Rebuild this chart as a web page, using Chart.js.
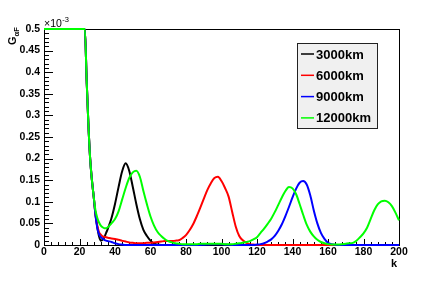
<!DOCTYPE html>
<html>
<head>
<meta charset="utf-8">
<script src="https://cdn.jsdelivr.net/npm/chart.js@4"></script>
<style>
html, body { margin: 0; padding: 0; background: #fff; }
#wrap { width: 443px; height: 285px; }
</style>
</head>
<body>
<div id="wrap"><canvas id="chart"></canvas></div>
<script>
// k values (same sampling for all four curves), G in units of 1e-3
const kValues = [0, 10, 20, 22, 23,
    24, 25, 26, 27, 28, 29, 30, 31, 32, 33, 34, 35, 36,
    38,
    40, 42, 44, 46, 48, 50, 52, 54, 56, 58,
    60, 62, 64, 66, 68, 70, 72, 74, 76, 78,
    80, 82, 84, 86, 88, 90, 92, 94, 96, 98,
    100, 102, 104, 106, 108, 110, 112, 114, 116, 118,
    120, 122, 124, 126, 128, 130, 132, 134, 136, 138,
    140, 142, 144, 146, 148, 150, 152, 154, 156, 158,
    160, 162, 164, 166, 168, 170, 172, 174, 176, 178,
    180, 182, 184, 186, 188, 190, 192, 194, 196, 198,
    200];

const g3000 = [0.5, 0.5, 0.5, 0.5, 0.5,
    0.385, 0.28, 0.2, 0.15, 0.112, 0.07, 0.042, 0.02, 0.01, 0.012, 0.018, 0.028, 0.038,
    0.062,
    0.095, 0.134, 0.17, 0.189, 0.172, 0.135, 0.095, 0.06, 0.035, 0.021,
    0.01, 0.003, 0.001, 0, 0, 0, 0, 0, 0, 0,
    0, 0, 0, 0, 0, 0, 0, 0, 0, 0,
    0, 0, 0, 0, 0, 0, 0, 0, 0, 0,
    0, 0, 0, 0, 0, 0, 0, 0, 0, 0,
    0, 0, 0, 0, 0, 0, 0, 0, 0, 0,
    0, 0, 0, 0, 0, 0, 0, 0, 0, 0,
    0, 0, 0, 0, 0, 0, 0, 0, 0, 0,
    0];

const g6000 = [0.5, 0.5, 0.5, 0.5, 0.5,
    0.385, 0.28, 0.2, 0.15, 0.112, 0.072, 0.045, 0.03, 0.024, 0.02, 0.019, 0.018, 0.017,
    0.015,
    0.014, 0.012, 0.01, 0.008, 0.006, 0.005, 0.004, 0.004, 0.004, 0.005,
    0.005, 0.006, 0.007, 0.008, 0.009, 0.009, 0.009, 0.01, 0.011, 0.016,
    0.023, 0.034, 0.048, 0.066, 0.086, 0.107, 0.127, 0.143, 0.155, 0.158,
    0.148, 0.132, 0.112, 0.077, 0.043, 0.021, 0.011, 0.005, 0.002, 0.001,
    0, 0, 0, 0, 0, 0, 0, 0, 0, 0,
    0, 0, 0, 0, 0, 0, 0, 0, 0, 0,
    0, 0, 0, 0, 0, 0, 0, 0, 0, 0,
    0, 0, 0, 0, 0, 0, 0, 0, 0, 0,
    0];

const g9000 = [0.5, 0.5, 0.5, 0.5, 0.5,
    0.385, 0.28, 0.2, 0.15, 0.112, 0.07, 0.04, 0.025, 0.018, 0.015, 0.012, 0.01, 0.009,
    0.007,
    0.004, 0.002, 0.001, 0, 0, 0, 0, 0, 0, 0,
    0, 0, 0, 0, 0, 0, 0, 0, 0, 0,
    0, 0, 0, 0, 0, 0.0005, 0.001, 0.0015, 0.002, 0.002,
    0.0015, 0.001, 0.0005, 0, 0, 0, 0, 0, 0, 0,
    0.001, 0.002, 0.004, 0.008, 0.013, 0.021, 0.033, 0.048, 0.067, 0.088,
    0.11, 0.13, 0.144, 0.148, 0.14, 0.115, 0.08, 0.05, 0.028, 0.014,
    0.005, 0.002, 0.0005, 0, 0, 0, 0, 0, 0, 0,
    0, 0, 0, 0, 0, 0, 0, 0, 0, 0,
    0];

const g12000 = [0.5, 0.5, 0.5, 0.5, 0.5,
    0.385, 0.28, 0.2, 0.15, 0.112, 0.08, 0.063, 0.052, 0.045, 0.041, 0.039, 0.039, 0.041,
    0.05,
    0.06, 0.078, 0.105, 0.132, 0.155, 0.168, 0.172, 0.158, 0.125, 0.094,
    0.066, 0.045, 0.03, 0.021, 0.014, 0.009, 0.006, 0.004, 0.003, 0.002,
    0.002, 0.002, 0.002, 0.002, 0.003, 0.003, 0.003, 0.003, 0.003, 0.003,
    0.003, 0.002, 0.002, 0.002, 0.003, 0.004, 0.005, 0.007, 0.009, 0.013,
    0.018, 0.028, 0.038, 0.049, 0.061, 0.076, 0.093, 0.11, 0.125, 0.134,
    0.131, 0.118, 0.095, 0.07, 0.047, 0.031, 0.02, 0.012, 0.007, 0.004,
    0.002, 0.001, 0.001, 0.001, 0.002, 0.003, 0.004, 0.005, 0.01, 0.018,
    0.027, 0.04, 0.06, 0.08, 0.094, 0.101, 0.1026, 0.099, 0.09, 0.075,
    0.057];

const seriesNames = ['3000km', '6000km', '9000km', '12000km'];
const seriesValues = [g3000, g6000, g9000, g12000];
const seriesColors = ['#000000', '#ff0000', '#0000ff', '#00ff00'];

const FONT = 'Liberation Sans, Arial, Helvetica, sans-serif';

function toPoints(vals) {
    return vals.map((v, i) => ({ x: kValues[i], y: v }));
}

var datasets = seriesNames.map((name, i) => ({
    label: name,
    data: toPoints(seriesValues[i]),
    borderColor: seriesColors[i],
    borderWidth: 2,
    pointRadius: 0,
    fill: false,
    clip: false,
    cubicInterpolationMode: 'monotone',
    order: seriesNames.length - i
}));

const framePlugin = {
    id: 'frame',
    beforeDatasetsDraw(chart) {
        const ctx = chart.ctx, a = chart.chartArea;
        const xs = chart.scales.x, ys = chart.scales.y;
        ctx.save();
        ctx.strokeStyle = '#000';
        ctx.lineWidth = 1;
        ctx.strokeRect(a.left + 0.5, a.top + 0.5, a.right - a.left, a.bottom - a.top);
        ctx.beginPath();
        for (let k = 0; k <= 200; k += 4) {
            const px = Math.round(xs.getPixelForValue(k)) + 0.5;
            const len = k % 20 === 0 ? 6 : 3;
            ctx.moveTo(px, a.bottom);
            ctx.lineTo(px, a.bottom - len);
        }
        for (let i = 0; i <= 50; i++) {
            const py = Math.round(ys.getPixelForValue(i / 100)) + 0.5;
            const len = i % 5 === 0 ? 9 : 5;
            ctx.moveTo(a.left, py);
            ctx.lineTo(a.left + len, py);
        }
        ctx.stroke();
        ctx.restore();
    },
    afterDraw(chart) {
        const ctx = chart.ctx, a = chart.chartArea;
        ctx.save();

        // legend box
        ctx.fillStyle = '#f0f0f0';
        ctx.fillRect(297, 43, 80, 85);
        ctx.strokeStyle = '#222';
        ctx.lineWidth = 1;
        ctx.strokeRect(297.5, 43.5, 80, 85);
        ctx.font = 'bold 13px ' + FONT;
        ctx.textBaseline = 'middle';
        ctx.textAlign = 'left';
        for (let i = 0; i < seriesNames.length; i++) {
            const y = 54 + i * 21.3;
            ctx.strokeStyle = seriesColors[i];
            ctx.lineWidth = 1.5;
            ctx.beginPath();
            ctx.moveTo(301, y);
            ctx.lineTo(314, y);
            ctx.stroke();
            ctx.fillStyle = '#000';
            ctx.fillText(seriesNames[i], 316, y + 1);
        }

        // exponent
        ctx.fillStyle = '#000';
        ctx.textBaseline = 'alphabetic';
        ctx.font = '10.5px ' + FONT;
        ctx.fillText('\u00d710', a.left, 27);
        const w = ctx.measureText('\u00d710').width;
        ctx.font = '7.5px ' + FONT;
        ctx.fillText('-3', a.left + w + 0.5, 22);

        // x title
        ctx.font = 'bold 11px ' + FONT;
        ctx.textAlign = 'right';
        ctx.fillText('k', 397, 267);

        // y title
        ctx.translate(16, 45);
        ctx.rotate(-Math.PI / 2);
        ctx.textAlign = 'left';
        ctx.font = 'bold 11px ' + FONT;
        ctx.fillText('G', 0, 0);
        const gw = ctx.measureText('G').width;
        ctx.font = 'bold 7.5px ' + FONT;
        ctx.fillText('\u03b1F', gw, 2.5);
        ctx.restore();
    }
};

var tickFont = { family: FONT, size: 10.5, weight: 'bold' };

var config = {
    type: 'line',
    data: { datasets: datasets },
    options: {
        responsive: true,
        maintainAspectRatio: false,
        animation: false,
        layout: { padding: { top: 29, right: 44, left: 0, bottom: 0 } },
        plugins: {
            legend: { display: false },
            tooltip: { enabled: false }
        },
        scales: {
            x: {
                type: 'linear',
                min: 0,
                max: 200,
                ticks: { stepSize: 20, font: tickFont, color: '#000', padding: 1, maxRotation: 0, autoSkip: false },
                grid: { display: false, drawTicks: false },
                border: { display: false },
                afterFit: function (s) { s.height = 40; }
            },
            y: {
                type: 'linear',
                min: 0,
                max: 0.5,
                ticks: {
                    stepSize: 0.05, font: tickFont, color: '#000', padding: 4,
                    callback: function (v) { return String(+v.toFixed(2)); }
                },
                grid: { display: false, drawTicks: false },
                border: { display: false },
                afterFit: function (s) { s.width = 44; }
            }
        }
    },
    plugins: [framePlugin]
};

var ctx = document.getElementById('chart').getContext('2d');
window.myChart = new Chart(ctx, config);
</script>
</body>
</html>
